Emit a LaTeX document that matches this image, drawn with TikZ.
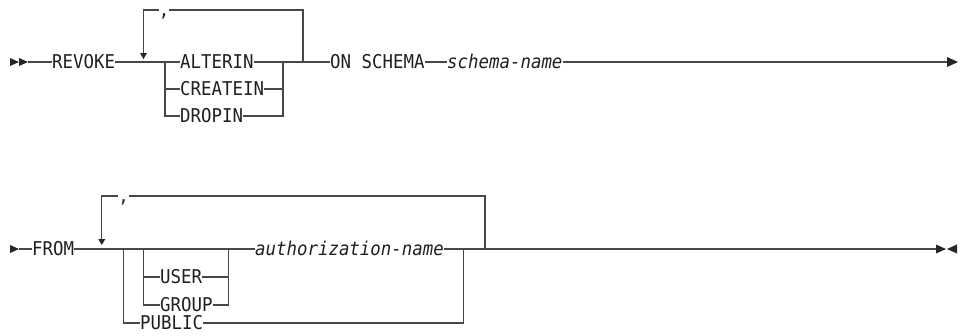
\documentclass[tikz,border=0pt]{standalone}
\usepackage{fontspec}
\newfontfamily\rrfont[FakeStretch=0.916]{DejaVu Sans Mono}
\begin{document}
\begin{tikzpicture}[x=1pt,y=-1pt,
  kw/.style={font=\rrfont\fontsize{19}{22}\selectfont, inner sep=0pt,
    text height=13.8pt, text depth=0pt, anchor=west, text=black!88},
  var/.style={kw, font=\rrfont\itshape\fontsize{19}{22}\selectfont},
  sep/.style={kw, anchor=center},
  rail/.style={draw=black!72, line width=1.1pt},
  tip/.style={fill=black!85},
]
\useasboundingbox (0,0) rectangle (961,335);

% ---------- row 1 ----------
\node[kw]  (revoke)   at (52,62)  {REVOKE};
\node[kw]  (alterin)  at (180,62) {ALTERIN};
\node[kw]  (createin) at (180,89) {CREATEIN};
\node[kw]  (dropin)   at (180,116){DROPIN};
\node[kw]  (onschema) at (330,62) {ON SCHEMA};
\node[var] (schema)   at (447,62) {schema-name};
\node[sep] (comma1)   at (164,10) {,};

\coordinate (st1) at (28,62);
\coordinate (bl1) at (165,62);
\coordinate (br1) at (283,62);
\coordinate (lr1) at (303,62);
\coordinate (ll1) at (143.5,53);
\coordinate (en1) at (947,62);

\fill[tip] (10,58) -- (19,62) -- (10,66) -- cycle;
\fill[tip] (19,58) -- (28,62) -- (19,66) -- cycle;

\draw[rail] (st1) -- (revoke.west);
\draw[rail] (revoke.east) -- (alterin.west);
\draw[rail] (alterin.east) -- (onschema.west);
\draw[rail] (onschema.east) -- (schema.west);
\draw[rail] (schema.east) -- (en1);
\fill[tip] (en1) ++(0,-5) -- ++(11,5) -- ++(-11,5) -- cycle;

\draw[rail] (bl1) |- (createin.west);
\draw[rail] (bl1) |- (dropin.west);
\draw[rail] (createin.east) -| (br1);
\draw[rail] (dropin.east) -| (br1);

\draw[rail] (lr1) |- (comma1.east);
\draw[rail] (comma1.west) -| (ll1);
\fill[tip] (ll1) ++(-3.5,0) -- ++(7,0) -- ++(-3.5,6) -- cycle;

% ---------- row 2 ----------
\node[kw]  (from)   at (32,249)  {FROM};
\node[kw]  (user)   at (160,277) {USER};
\node[kw]  (group)  at (160,305) {GROUP};
\node[var] (auth)   at (255,249) {authorization-name};
\node[kw]  (public) at (140,323) {PUBLIC};
\node[sep] (comma2) at (123.5,196) {,};

\coordinate (st2) at (19,249);
\coordinate (bo2) at (123.3,249);
\coordinate (bi2) at (143.3,249);
\coordinate (ri2) at (228.3,249);
\coordinate (ro2) at (463.3,249);
\coordinate (lr2) at (485,249);
\coordinate (ll2) at (101.8,239);
\coordinate (en2) at (936,249);

\fill[tip] (10,245) -- (19,249) -- (10,253) -- cycle;

\draw[rail] (st2) -- (from.west);
\draw[rail] (from.east) -- (auth.west);
\draw[rail] (auth.east) -- (en2);
\fill[tip] (en2) ++(0,-4.5) -- ++(10,4.5) -- ++(-10,4.5) -- cycle;
\fill[tip] (957,244.5) -- (947,249) -- (957,253.5) -- cycle;

\draw[rail] (bo2) |- (public.west);
\draw[rail] (public.east) -| (ro2);
\draw[rail] (bi2) |- (user.west);
\draw[rail] (bi2) |- (group.west);
\draw[rail] (user.east) -| (ri2);
\draw[rail] (group.east) -| (ri2);

\draw[rail] (lr2) |- (comma2.east);
\draw[rail] (comma2.west) -| (ll2);
\fill[tip] (ll2) ++(-3.5,0) -- ++(7,0) -- ++(-3.5,6) -- cycle;
\end{tikzpicture}
\end{document}
